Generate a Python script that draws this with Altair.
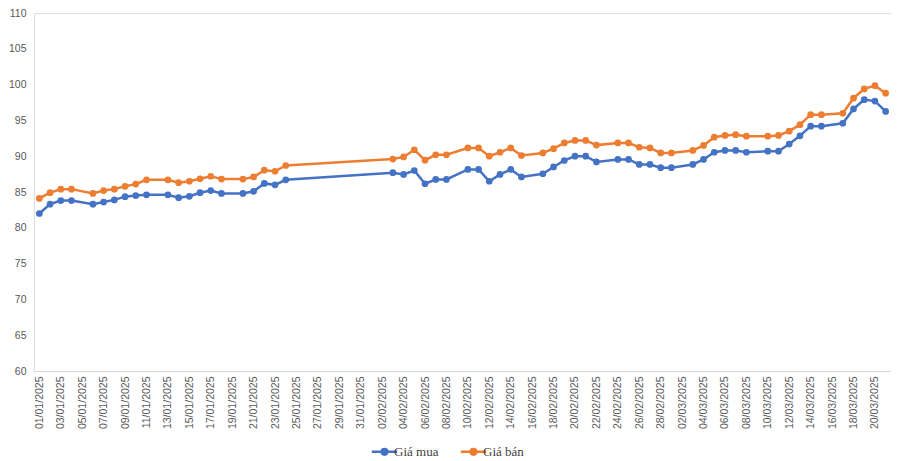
import altair as alt
import pandas as pd

dates = [
    "2025-01-01", "2025-01-02", "2025-01-03", "2025-01-04", "2025-01-06", "2025-01-07",
    "2025-01-08", "2025-01-09", "2025-01-10", "2025-01-11", "2025-01-13", "2025-01-14",
    "2025-01-15", "2025-01-16", "2025-01-17", "2025-01-18", "2025-01-20", "2025-01-21",
    "2025-01-22", "2025-01-23", "2025-01-24",
    "2025-02-03", "2025-02-04", "2025-02-05", "2025-02-06", "2025-02-07", "2025-02-08",
    "2025-02-10", "2025-02-11", "2025-02-12", "2025-02-13", "2025-02-14", "2025-02-15",
    "2025-02-17", "2025-02-18", "2025-02-19", "2025-02-20", "2025-02-21", "2025-02-22",
    "2025-02-24", "2025-02-25", "2025-02-26", "2025-02-27", "2025-02-28", "2025-03-01",
    "2025-03-03", "2025-03-04", "2025-03-05", "2025-03-06", "2025-03-07", "2025-03-08",
    "2025-03-10", "2025-03-11", "2025-03-12", "2025-03-13", "2025-03-14", "2025-03-15",
    "2025-03-17", "2025-03-18", "2025-03-19", "2025-03-20", "2025-03-21",
]

gia_mua = [
    82.0, 83.3, 83.8, 83.8, 83.3, 83.6,
    83.9, 84.35, 84.5, 84.6, 84.6, 84.2,
    84.4, 84.9, 85.2, 84.8, 84.8, 85.1,
    86.2, 86.0, 86.7,
    87.7, 87.45, 88.0, 86.15, 86.75, 86.75,
    88.15, 88.15, 86.5, 87.45, 88.15, 87.1,
    87.55, 88.5, 89.4, 90.0, 90.0, 89.2,
    89.55, 89.55, 88.85, 88.85, 88.4, 88.4,
    88.85, 89.55, 90.55, 90.8, 90.8, 90.55,
    90.7, 90.7, 91.7, 92.85, 94.2, 94.2,
    94.6, 96.6, 97.9, 97.7, 96.25,
]

gia_ban = [
    84.1, 84.9, 85.4, 85.4, 84.8, 85.2,
    85.4, 85.8, 86.1, 86.7, 86.7, 86.3,
    86.5, 86.85, 87.2, 86.8, 86.8, 87.1,
    88.05, 87.9, 88.7,
    89.6, 89.9, 90.9, 89.45, 90.2, 90.2,
    91.15, 91.15, 90.0, 90.55, 91.15, 90.1,
    90.45, 91.05, 91.85, 92.2, 92.2, 91.55,
    91.85, 91.85, 91.25, 91.15, 90.45, 90.45,
    90.8, 91.5, 92.65, 92.9, 93.0, 92.8,
    92.8, 92.9, 93.5, 94.4, 95.8, 95.8,
    96.0, 98.1, 99.4, 99.85, 98.8,
]

series_names = ["Giá mua", "Giá bán"]
series_colors = ["#4472C4", "#ED7D31"]
y_ticks = [60, 65, 70, 75, 80, 85, 90, 95, 100, 105, 110]
x_tick_dates = pd.date_range("2025-01-01", "2025-03-20", freq="2D")

rows = []
for d, m, b in zip(dates, gia_mua, gia_ban):
    rows.append({"date": d + "T00:00:00", "series": series_names[0], "value": m})
    rows.append({"date": d + "T00:00:00", "series": series_names[1], "value": b})
df = pd.DataFrame(rows)

x_values = [alt.DateTime(year=t.year, month=t.month, date=t.day) for t in x_tick_dates]

x_enc = alt.X(
    "date:T",
    scale=alt.Scale(
        domain=[
            alt.DateTime(year=2024, month=12, date=31, hours=12),
            alt.DateTime(year=2025, month=3, date=21, hours=12),
        ],
        nice=False,
    ),
    axis=alt.Axis(
        values=x_values,
        format="%d/%m/%Y",
        labelAngle=270,
        title=None,
        grid=False,
        ticks=False,
        domainColor="#D9D9D9",
        domainWidth=1,
        labelColor="#595959",
        labelFont="Liberation Sans",
        labelFontSize=10.5,
        labelPadding=5,
        labelOverlap=False,
    ),
)

y_enc = alt.Y(
    "value:Q",
    scale=alt.Scale(domain=[60, 110], nice=False, zero=False),
    axis=alt.Axis(
        values=y_ticks,
        title=None,
        grid=False,
        ticks=False,
        domain=False,
        labelColor="#595959",
        labelFont="Liberation Sans",
        labelFontSize=10.5,
        labelPadding=8,
    ),
)

color_enc = alt.Color(
    "series:N",
    scale=alt.Scale(domain=series_names, range=series_colors),
    sort=series_names,
    legend=alt.Legend(
        title=None,
        orient="none",
        direction="horizontal",
        legendX=342,
        legendY=430,
        symbolType="M -1.8 0 L 1.8 0 M 0.4 0 A 0.4 0.4 0 1 1 -0.4 0 A 0.4 0.4 0 1 1 0.4 0",
        symbolSize=200,
        symbolStrokeWidth=2.5,
        symbolOpacity=1,
        labelFont="Liberation Serif",
        labelFontSize=13,
        labelColor="#404040",
        columnPadding=16,
        labelOffset=1,
    ),
)

base = alt.Chart(df)

lines = base.mark_line(strokeWidth=2.5).encode(x=x_enc, y=y_enc, color=color_enc, detail="series:N")
points = base.mark_point(filled=True, size=45, opacity=1).encode(x=x_enc, y=y_enc, color=color_enc)

chart = (
    alt.layer(lines, points)
    .properties(width=857, height=358, padding={"left": 0, "top": 0, "right": 0, "bottom": 0})
    .configure_view(stroke=None)
    .configure(background="white")
)

chart.save("out.html", embed_options={"renderer": "svg", "actions": False})
